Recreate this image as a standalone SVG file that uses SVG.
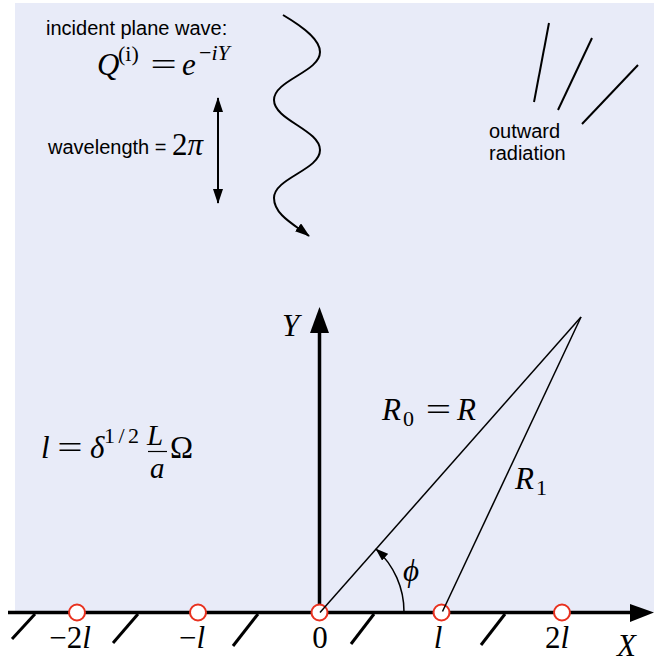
<svg xmlns="http://www.w3.org/2000/svg" width="654" height="663" viewBox="0 0 654 663">
<style>
.t{font-family:"Liberation Sans",Arial,sans-serif;font-size:20px;fill:#000}
.m{font-family:"Liberation Serif","DejaVu Serif",serif;font-size:31px;fill:#000}
.s{font-size:22px}
.f{font-size:29px}
.i{font-style:italic}
.ln{stroke:#000;stroke-width:2;fill:none}
.hatch{stroke:#000;stroke-width:3;fill:none;stroke-linecap:butt}
.pt{fill:#fff;stroke:#e8311f;stroke-width:2}
</style>
<defs>
<marker id="ah" viewBox="0 0 15 10" refX="14" refY="5" markerWidth="15" markerHeight="10" markerUnits="userSpaceOnUse" orient="auto-start-reverse">
<path d="M0,0 L15,5 L0,10 z" fill="#000"/>
</marker>
<marker id="ahs" viewBox="0 0 13 9" refX="12" refY="4.5" markerWidth="13" markerHeight="9" markerUnits="userSpaceOnUse" orient="auto">
<path d="M0,0 L13,4.5 L0,9 z" fill="#000"/>
</marker>
</defs>
<rect x="15" y="3" width="639" height="609" fill="#e8ebf8"/>

<g id="incident-wave">
<text class="t" x="46" y="35">incident plane wave:</text>
<text class="m i" x="97" y="75">Q</text>
<text class="m s" x="118" y="61">(i)</text>
<text class="m" transform="translate(163.5,75) scale(1.5,1)" text-anchor="middle">=</text>
<text class="m i" x="182" y="75">e</text>
<text class="m s" x="199" y="60">−<tspan class="i">iY</tspan></text>
<path class="ln" d="M283,15 C305,28 320,40 320,52 C320,72 274,80 274,100 C274,120 320,130 320,150 C320,170 274,178 274,198 C274,215 295,225 309,236" marker-end="url(#ah)"/>
</g>

<g id="wavelength">
<text class="t" x="48" y="154">wavelength =</text>
<text class="m" x="172" y="155">2<tspan class="i">π</tspan></text>
<line class="ln" x1="218" y1="98" x2="218" y2="203" marker-start="url(#ah)" marker-end="url(#ah)"/>
</g>

<g id="outward-radiation">
<line class="ln" x1="549" y1="23" x2="534" y2="102"/>
<line class="ln" x1="592" y1="38" x2="558" y2="110"/>
<line class="ln" x1="638" y1="65" x2="582" y2="124"/>
<text class="t" x="489" y="138">outward</text>
<text class="t" x="489" y="160">radiation</text>
</g>

<g id="formula-l">
<text class="m i" x="41" y="458">l</text>
<text class="m" transform="translate(70,458) scale(1.45,1)" text-anchor="middle">=</text>
<text class="m i" x="90" y="458">δ</text>
<text class="m s" x="104" y="443" textLength="35" lengthAdjust="spacing">1/2</text>
<text class="m f i" x="147" y="445">L</text>
<line x1="148" y1="451.5" x2="167" y2="451.5" stroke="#000" stroke-width="1.2"/>
<text class="m f i" x="150" y="478">a</text>
<text class="m" x="170" y="458">Ω</text>
</g>

<g id="connectors">
<line class="hatch" x1="35" y1="614" x2="12" y2="639"/>
<line class="hatch" x1="138" y1="614" x2="113" y2="643"/>
<line class="hatch" x1="258" y1="614" x2="233" y2="646"/>
<line class="hatch" x1="374" y1="614" x2="351" y2="644"/>
<line class="hatch" x1="505" y1="614" x2="481" y2="645"/>
<line x1="8" y1="612.5" x2="632" y2="612.5" stroke="#000" stroke-width="3.5"/>
<polygon points="630,604 654,612.5 630,622" fill="#000"/>
<line x1="319.5" y1="612" x2="319.5" y2="330" stroke="#000" stroke-width="3.5"/>
<polygon points="310,333 319.5,307 329,333" fill="#000"/>
</g>

<g id="points">
<circle class="pt" cx="77" cy="612.5" r="8"/>
<circle class="pt" cx="198" cy="612.5" r="8"/>
<circle class="pt" cx="319.5" cy="612.5" r="8"/>
<circle class="pt" cx="441.5" cy="612.5" r="8"/>
<circle class="pt" cx="562" cy="612.5" r="8"/>
</g>

<g id="rays">
<line x1="320" y1="612.5" x2="581" y2="317" stroke="#000" stroke-width="1.5"/>
<line x1="442.5" y1="611.5" x2="581" y2="317" stroke="#000" stroke-width="1.5"/>
<path d="M404,612 A84,84 0 0 0 376.2,549.2" fill="none" stroke="#000" stroke-width="1.5" marker-end="url(#ahs)"/>
</g>

<g id="labels">
<text class="m" x="70" y="648" text-anchor="middle">−2<tspan class="i">l</tspan></text>
<text class="m" x="192" y="648" text-anchor="middle">−<tspan class="i">l</tspan></text>
<text class="m" x="320" y="648" text-anchor="middle">0</text>
<text class="m i" x="438" y="648" text-anchor="middle">l</text>
<text class="m" x="557" y="648" text-anchor="middle">2<tspan class="i">l</tspan></text>
<text class="m i" x="617" y="656">X</text>
<text class="m i" x="282" y="336">Y</text>
<text class="m i" x="382" y="420">R</text>
<text class="m s" x="403" y="426">0</text>
<text class="m" transform="translate(438.5,420) scale(1.45,1)" text-anchor="middle">=</text>
<text class="m i" x="457" y="420">R</text>
<text class="m i" x="515" y="489">R</text>
<text class="m s" x="536" y="495">1</text>
<text class="m i" x="411" y="581" text-anchor="middle">ϕ</text>
</g>
</svg>
